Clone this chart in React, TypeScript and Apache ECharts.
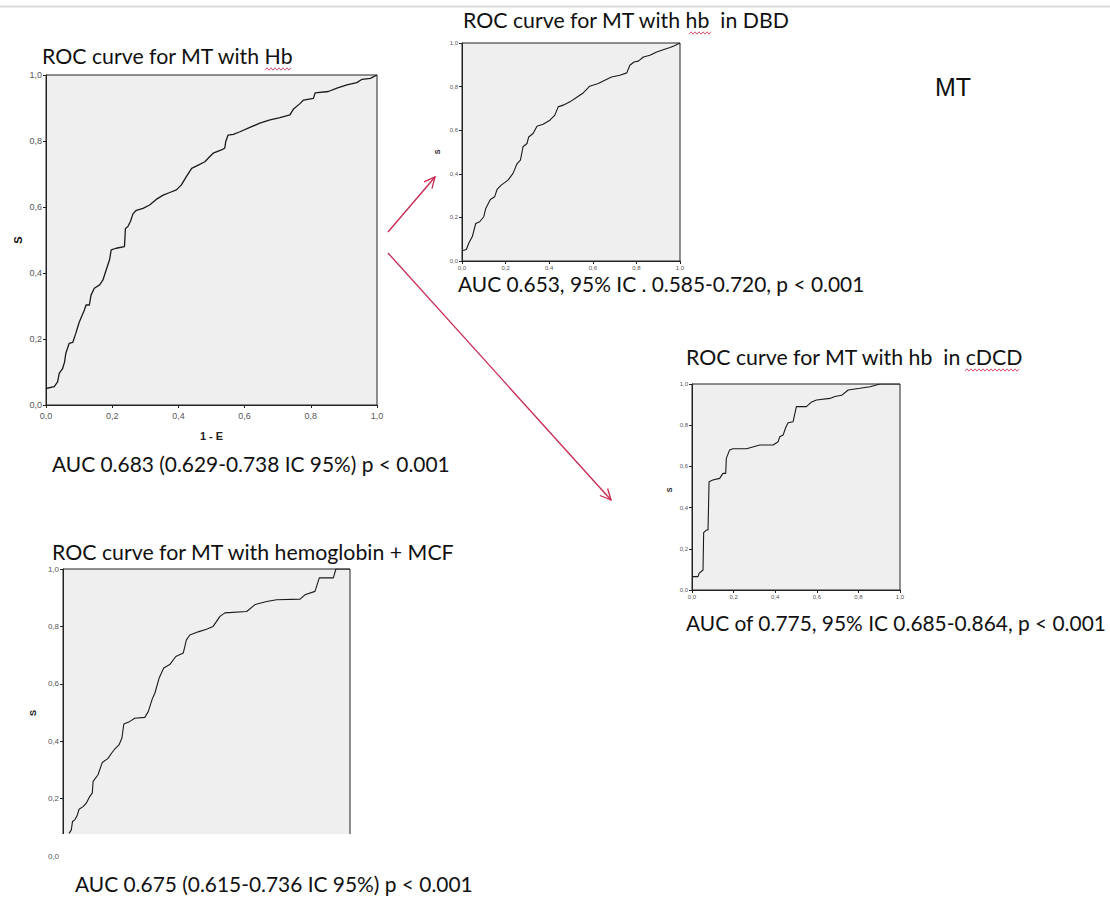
import React, { useEffect, useRef } from "react";
import * as echarts from "echarts";

// ROC curve points: [1 - specificity, sensitivity]
const rocHb: number[][] = [
  [0, 0.05], [0.025, 0.056], [0.035, 0.07], [0.04, 0.096], [0.05, 0.11], [0.056, 0.13],
  [0.06, 0.157], [0.07, 0.187], [0.081, 0.19], [0.09, 0.217], [0.1, 0.25], [0.116, 0.288],
  [0.121, 0.303], [0.131, 0.303], [0.136, 0.333], [0.146, 0.354], [0.162, 0.364],
  [0.172, 0.379], [0.182, 0.41], [0.192, 0.44], [0.197, 0.47], [0.212, 0.475], [0.237, 0.48],
  [0.24, 0.535], [0.247, 0.54], [0.255, 0.556], [0.263, 0.58], [0.273, 0.59], [0.293, 0.596],
  [0.313, 0.606], [0.333, 0.623], [0.354, 0.636], [0.374, 0.644], [0.394, 0.652],
  [0.409, 0.667], [0.424, 0.692], [0.44, 0.717], [0.46, 0.727], [0.48, 0.737], [0.495, 0.753],
  [0.505, 0.763], [0.53, 0.773], [0.54, 0.778], [0.543, 0.798], [0.55, 0.818], [0.566, 0.82],
  [0.586, 0.828], [0.616, 0.841], [0.646, 0.854], [0.677, 0.864], [0.707, 0.871],
  [0.737, 0.879], [0.747, 0.896], [0.768, 0.914], [0.778, 0.924], [0.808, 0.929],
  [0.813, 0.946], [0.853, 0.95], [0.879, 0.96], [0.909, 0.97], [0.939, 0.977], [0.955, 0.987],
  [0.98, 0.99], [1, 1],
];

const rocDBD: number[][] = [
  [0, 0.047], [0.02, 0.053], [0.032, 0.084], [0.047, 0.111], [0.063, 0.172], [0.081, 0.18],
  [0.1, 0.203], [0.109, 0.241], [0.13, 0.282], [0.15, 0.295], [0.161, 0.328], [0.18, 0.348],
  [0.211, 0.371], [0.234, 0.402], [0.253, 0.447], [0.268, 0.463], [0.28, 0.524],
  [0.298, 0.539], [0.306, 0.569], [0.326, 0.585], [0.344, 0.618], [0.372, 0.627],
  [0.403, 0.646], [0.426, 0.669], [0.441, 0.707], [0.464, 0.715], [0.495, 0.73],
  [0.525, 0.75], [0.556, 0.771], [0.586, 0.802], [0.625, 0.814], [0.655, 0.829],
  [0.686, 0.844], [0.724, 0.852], [0.756, 0.863], [0.77, 0.898], [0.789, 0.913],
  [0.809, 0.917], [0.832, 0.936], [0.862, 0.944], [0.893, 0.959], [0.923, 0.969],
  [0.954, 0.979], [0.977, 0.989], [1, 1],
];

const rocCDCD: number[][] = [
  [0, 0.065], [0.029, 0.065], [0.034, 0.081], [0.053, 0.097], [0.056, 0.278], [0.069, 0.291],
  [0.077, 0.291], [0.082, 0.526], [0.1, 0.534], [0.133, 0.542], [0.149, 0.566], [0.162, 0.566],
  [0.165, 0.639], [0.181, 0.68], [0.197, 0.686], [0.262, 0.686], [0.326, 0.704], [0.39, 0.704],
  [0.414, 0.72], [0.422, 0.744], [0.438, 0.752], [0.451, 0.79], [0.462, 0.812], [0.486, 0.817],
  [0.502, 0.89], [0.55, 0.89], [0.575, 0.913], [0.599, 0.922], [0.663, 0.93], [0.687, 0.939],
  [0.719, 0.945], [0.751, 0.971], [0.807, 0.979], [0.856, 0.987], [0.904, 1.0], [1, 1],
];

const rocHbMCF: number[][] = [
  [0.021, 0.079], [0.029, 0.091], [0.033, 0.12], [0.041, 0.126], [0.049, 0.14], [0.056, 0.163],
  [0.07, 0.172], [0.081, 0.184], [0.093, 0.207], [0.102, 0.219], [0.105, 0.26], [0.122, 0.283],
  [0.137, 0.326], [0.157, 0.34], [0.169, 0.358], [0.18, 0.372], [0.195, 0.387], [0.205, 0.41],
  [0.212, 0.46], [0.233, 0.469], [0.25, 0.48], [0.285, 0.483], [0.297, 0.503], [0.312, 0.55],
  [0.32, 0.567], [0.335, 0.62], [0.351, 0.655], [0.372, 0.667], [0.393, 0.695], [0.419, 0.707],
  [0.43, 0.753], [0.442, 0.77], [0.471, 0.781], [0.5, 0.79], [0.523, 0.8], [0.547, 0.835],
  [0.564, 0.847], [0.64, 0.852], [0.669, 0.876], [0.71, 0.887], [0.744, 0.893], [0.826, 0.895],
  [0.843, 0.91], [0.878, 0.922], [0.893, 0.969], [0.942, 0.969], [0.951, 1.0], [1, 1],
];

const titles = [
  "ROC curve for MT with Hb",
  "ROC curve for MT with hb  in DBD",
  "ROC curve for MT with hb  in cDCD",
  "ROC curve for MT with hemoglobin + MCF",
];
const aucTexts = [
  "AUC 0.683 (0.629-0.738 IC 95%) p < 0.001",
  "AUC 0.653, 95% IC . 0.585-0.720, p < 0.001",
  "AUC of 0.775, 95% IC 0.685-0.864, p < 0.001",
  "AUC 0.675 (0.615-0.736 IC 95%) p < 0.001",
];
const axisNameY = "S";
const axisNameX = "1 - E";
const sideLabel = "MT";

const TXT_FONT = "Lato, 'Open Sans', sans-serif";
const TICK_FONT = "'Liberation Sans', Arial, sans-serif";

function wavy(x0: number, x1: number, y: number): number[][] {
  const pts: number[][] = [];
  let i = 0;
  for (let x = x0; x <= x1; x += 2) {
    pts.push([x, y + (i % 2 === 0 ? 1.2 : -1.2)]);
    i++;
  }
  return pts;
}

function arrow(x0: number, y0: number, x1: number, y1: number, color: string) {
  const a = Math.atan2(y1 - y0, x1 - x0);
  const L = 12;
  const s = 0.45;
  return [
    { type: "line", shape: { x1: x0, y1: y0, x2: x1, y2: y1 }, style: { stroke: color, lineWidth: 1.3 } },
    {
      type: "polyline",
      shape: {
        points: [
          [x1 - L * Math.cos(a - s), y1 - L * Math.sin(a - s)],
          [x1, y1],
          [x1 - L * Math.cos(a + s), y1 - L * Math.sin(a + s)],
        ],
      },
      style: { stroke: color, lineWidth: 1.3, fill: null },
    },
  ];
}

function text(t: string, x: number, y: number, size: number, extra: any = {}) {
  return {
    type: "text",
    x,
    y,
    z: 100,
    ...extra,
    style: {
      text: t,
      fontSize: size,
      fontFamily: TXT_FONT,
      fill: "#111",
      textAlign: "left",
      align: "left",
      textVerticalAlign: "middle",
      verticalAlign: "middle",
      ...(extra.style || {}),
    },
  };
}

const fmt = (v: number) => v.toFixed(1).replace(".", ",");

function App() {
  const ref = useRef<HTMLDivElement>(null);
  useEffect(() => {
    if (!ref.current) return;
    const chart = echarts.init(ref.current, null, { renderer: "svg" });

    const grids = [
      { left: 46, top: 75, width: 331, height: 330 },
      { left: 462, top: 43, width: 218, height: 218 },
      { left: 692, top: 384, width: 208, height: 206 },
      { left: 63, top: 569, width: 287, height: 287 },
    ];
    const tickSizes = [9, 6, 6, 8];
    const showX = [true, true, true, false];

    const xAxes = grids.map((_, i) => ({
      type: "value",
      gridIndex: i,
      min: 0,
      max: 1,
      interval: 0.2,
      splitLine: { show: false },
      axisLine: { show: true, onZero: false, lineStyle: { color: "#222", width: 1 } },
      axisTick: { show: showX[i], inside: false, length: 3, lineStyle: { color: "#222" } },
      axisLabel: {
        show: showX[i],
        formatter: fmt,
        fontSize: tickSizes[i],
        color: "#555",
        fontFamily: TICK_FONT,
        margin: i === 0 ? 6 : 4,
      },
      name: i === 0 ? axisNameX : "",
      nameLocation: "middle",
      nameGap: 25,
      nameTextStyle: { fontSize: 11, fontWeight: "bold", color: "#222", fontFamily: TICK_FONT },
    }));
    const yAxes = grids.map((_, i) => ({
      type: "value",
      gridIndex: i,
      min: 0,
      max: 1,
      interval: 0.2,
      splitLine: { show: false },
      axisLine: { show: true, onZero: false, lineStyle: { color: "#222", width: 1 } },
      axisTick: { show: true, inside: false, length: 3, lineStyle: { color: "#222" } },
      axisLabel: {
        formatter: fmt,
        fontSize: tickSizes[i],
        color: "#555",
        fontFamily: TICK_FONT,
        margin: 4,
      },
    }));

    const data = [rocHb, rocDBD, rocCDCD, rocHbMCF];
    const series = data.map((d, i) => ({
      type: "line",
      xAxisIndex: i,
      yAxisIndex: i,
      data: d,
      showSymbol: false,
      symbol: "none",
      lineStyle: { color: "#1a1a1a", width: i === 0 ? 1.3 : 1.1 },
      silent: true,
    }));

    const red = "#c8264e";
    const T = 21.3;
    const A = 20.9;
    const graphic: any[] = [
      { type: "line", shape: { x1: 0, y1: 6.5, x2: 1110, y2: 6.5 }, style: { stroke: "#d9d9d9", lineWidth: 2 } },
      // mask the cut-off bottom of the last plot
      { type: "rect", z: 50, shape: { x: 60, y: 834, width: 296, height: 24 }, style: { fill: "#ffffff" } },
      text(titles[0], 42, 56, T),
      text(titles[1], 463, 20, T),
      text(titles[2], 686, 357, T),
      text(titles[3], 52, 552, T),
      text(aucTexts[0], 52, 463, A),
      text(aucTexts[1], 458, 283, A),
      text(aucTexts[2], 686, 622, A),
      text(aucTexts[3], 75, 883, A),
      text(sideLabel, 935, 87, 25, { style: { fontFamily: "'Liberation Sans', Arial, sans-serif", fill: "#111" } }),
      text(axisNameY, 18, 240, 11, { rotation: Math.PI / 2, style: { fontWeight: "bold", fontFamily: TICK_FONT, textAlign: "center", align: "center" } }),
      text(axisNameY, 437, 152, 7, { rotation: Math.PI / 2, style: { fontWeight: "bold", fontFamily: TICK_FONT, textAlign: "center", align: "center" } }),
      text(axisNameY, 669, 490, 7, { rotation: Math.PI / 2, style: { fontWeight: "bold", fontFamily: TICK_FONT, textAlign: "center", align: "center" } }),
      text(axisNameY, 33, 713, 9, { rotation: Math.PI / 2, style: { fontWeight: "bold", fontFamily: TICK_FONT, textAlign: "center", align: "center" } }),
      { type: "polyline", shape: { points: wavy(265, 292, 69) }, style: { stroke: red, lineWidth: 0.8, fill: null } },
      { type: "polyline", shape: { points: wavy(689, 711, 33) }, style: { stroke: red, lineWidth: 0.8, fill: null } },
      { type: "polyline", shape: { points: wavy(965, 1019, 370) }, style: { stroke: red, lineWidth: 0.8, fill: null } },
      ...arrow(388, 232, 435, 177, red),
      ...arrow(388, 253, 611, 500, red),
    ];

    chart.setOption({
      animation: false,
      backgroundColor: "#ffffff",
      grid: grids.map((g) => ({
        ...g,
        show: true,
        backgroundColor: "#efefef",
        borderColor: "#222",
        borderWidth: 1,
        containLabel: false,
      })),
      xAxis: xAxes,
      yAxis: yAxes,
      series,
      graphic,
    });
    return () => chart.dispose();
  }, []);
  return (
    <div
      ref={ref}
      style={{ position: "absolute", left: 0, top: 0, width: 1110, height: 897 }}
    />
  );
}

export default App;
